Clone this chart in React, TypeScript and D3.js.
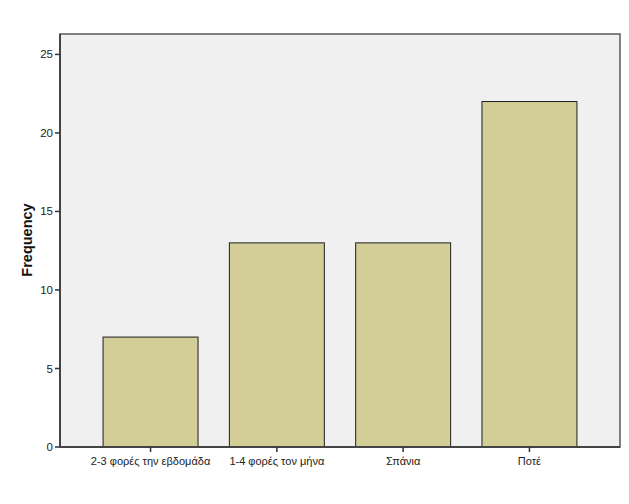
import React from "react";
import * as d3 from "d3";

const categories = ["2-3 φορές την εβδομάδα", "1-4 φορές τον μήνα", "Σπάνια", "Ποτέ"];
const frequencies = [7, 13, 13, 22];
const yTicks = [0, 5, 10, 15, 20, 25];

export default function App() {
  const W = 629, H = 504;
  const left = 60, right = 620, top = 34, bottom = 447;
  const x = d3.scalePoint<string>().domain(categories).range([left, right]).padding(0.717);
  const y = d3.scaleLinear().domain([0, 26.3]).range([bottom, top]);
  const bw = x.step() * 0.752;
  const font = "Arial, 'Liberation Sans', sans-serif";
  return (
    <svg width={W} height={H} style={{ position: "absolute", left: 0, top: 0, background: "#fff" }}>
      <rect x={left} y={top} width={right - left} height={bottom - top} fill="#f0f0f0" stroke="#5a5a5a" strokeWidth={1.5} />
      {categories.map((c, i) => (
        <rect key={c} x={x(c)! - bw / 2} y={y(frequencies[i])} width={bw} height={bottom - y(frequencies[i])}
          fill="#d3ce97" stroke="#1e1e1e" strokeWidth={1} />
      ))}
      <line x1={left} x2={left} y1={top} y2={bottom} stroke="#444" strokeWidth={2} />
      <line x1={left} x2={right} y1={bottom} y2={bottom} stroke="#444" strokeWidth={2} />
      {yTicks.map(t => (
        <g key={t}>
          <line x1={left - 5} x2={left} y1={y(t)} y2={y(t)} stroke="#333" strokeWidth={1.5} />
          <text x={left - 7} y={y(t)} dy="0.35em" textAnchor="end" fontFamily={font} fontSize={11.5} fill="#222">{t}</text>
        </g>
      ))}
      {categories.map(c => (
        <g key={c}>
          <line x1={x(c)!} x2={x(c)!} y1={bottom} y2={bottom + 5} stroke="#333" strokeWidth={1.5} />
          <text x={x(c)!} y={bottom + 18} textAnchor="middle" fontFamily={font} fontSize={11} fill="#222">{c}</text>
        </g>
      ))}
      <text transform={`translate(32,240) rotate(-90)`} textAnchor="middle" fontFamily={font}
        fontSize={14.5} fontWeight="bold" fill="#111">Frequency</text>
    </svg>
  );
}
